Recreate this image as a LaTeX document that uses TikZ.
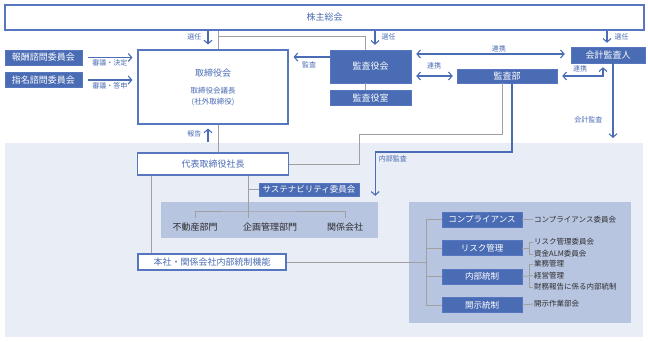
\documentclass[tikz,border=0pt]{standalone}
\usepackage{fontspec}
\setmainfont{Noto Sans CJK JP}
\usetikzlibrary{arrows.meta, positioning, calc}
\definecolor{govBlue}{HTML}{4A6CB4}
\definecolor{govBorder}{HTML}{5676BF}
\definecolor{govBack}{HTML}{E9EDF6}
\definecolor{govGroup}{HTML}{B8C5E1}
\definecolor{govGray}{HTML}{A0A0A0}
\definecolor{textDark}{HTML}{2D2D2D}

\begin{document}
\begin{tikzpicture}[x=1pt, y=-1pt,
    whitebox/.style={rectangle, draw=govBorder, line width=1.1pt, fill=white,
      text=govBlue, font=\fontsize{9}{11}\selectfont, inner sep=0pt},
    bluebox/.style={rectangle, fill=govBlue, draw=govBorder, line width=0.5pt,
      text=white, font=\fontsize{9}{11}\selectfont, inner sep=0pt},
    ctrl/.style={bluebox, minimum width=80pt, minimum height=15pt,
      font=\fontsize{8.5}{10}\selectfont},
    groupbox/.style={rectangle, fill=govGroup, inner sep=0pt},
    dept/.style={text=textDark, font=\fontsize{9}{11}\selectfont,
      inner sep=0pt, minimum height=18pt},
    item/.style={anchor=west, text=textDark, font=\fontsize{7.5}{9}\selectfont,
      inner sep=1pt},
    tag/.style={text=govBlue, font=\fontsize{7}{8}\selectfont, inner sep=1pt},
    flow/.style={draw=govBlue, line width=1.1pt,
      -{Straight Barb[length=3.5pt, width=8pt]}},
    mutual/.style={flow, {Straight Barb[length=3.5pt, width=8pt]}-{Straight Barb[length=3.5pt, width=8pt]}},
    link/.style={draw=govGray, line width=0.8pt},
    node distance=7pt
  ]
  \useasboundingbox (0,0) rectangle (648,341);
  \fill[govBack] (5,143) rectangle (643,337);

  \node[whitebox, minimum width=639pt, minimum height=25pt] (agm) at (324.5,17.5) {株主総会};
  \node[whitebox, minimum width=150pt, minimum height=74pt, align=center] (board) at (213,87)
    {取締役会\\[6pt]{\fontsize{7.5}{9}\selectfont 取締役会議長}\\{\fontsize{7.5}{9}\selectfont (社外取締役)}};
  \node[bluebox, minimum width=77pt, minimum height=15pt] (remun) at (43.5,57.5) {報酬諮問委員会};
  \node[bluebox, minimum width=77pt, minimum height=15pt, below=of remun] (nomin) {指名諮問委員会};
  \node[bluebox, minimum width=81pt, minimum height=33pt] (aud) at (370.5,66.5) {監査役会};
  \node[bluebox, minimum width=81pt, minimum height=15pt, below=of aud] (audoff) {監査役室};
  \node[bluebox, minimum width=74pt, minimum height=16pt] (extaud) at (608,55) {会計監査人};
  \node[bluebox, minimum width=100pt, minimum height=14pt] (intaud) at (507,76) {監査部};

  \node[whitebox, minimum width=151pt, minimum height=22pt] (ceo) at (213,164) {代表取締役社長};
  \node[bluebox, minimum width=100pt, minimum height=13pt, font=\fontsize{8.5}{10}\selectfont]
    (sust) at (309,189.5) {サステナビリティ委員会};
  \node[groupbox, minimum width=217pt, minimum height=36pt] (busgrp) at (269.5,220) {};
  \node[dept] (realest) at (195,227) {不動産部門};
  \node[dept] (planning) at (270,227) {企画管理部門};
  \node[dept] (affil) at (345,227) {関係会社};
  \node[whitebox, minimum width=148pt, minimum height=16pt] (icfunc) at (212,262) {本社・関係会社内部統制機能};

  \node[groupbox, minimum width=222pt, minimum height=121pt] (ctrlgrp) at (520,262.5) {};
  \node[ctrl] (compl) at (482,219.5) {コンプライアンス};
  \node[ctrl, below=13pt of compl] (risk) {リスク管理};
  \node[ctrl, below=13pt of risk] (intctrl) {内部統制};
  \node[ctrl, below=13pt of intctrl] (discl) {開示統制};
  \node[item] (complc) at (533,219.5) {コンプライアンス委員会};
  \node[item] (riskc) at (533,242) {リスク管理委員会};
  \node[item] (almc) at (533,254) {資金ALM委員会};
  \node[item] (opmgmt) at (533,264) {業務管理};
  \node[item] (mgmt) at (533,275.5) {経営管理};
  \node[item] (finrep) at (533,287) {財務報告に係る内部統制};
  \node[item] (disclc) at (533,304) {開示作業部会};

  \coordinate (deptbar) at (248,211);
  \coordinate (trunk) at (426,262);
  \coordinate (brk) at (529,0);

  \draw[flow, shorten >=5pt] ([xshift=-5pt]board.north |- agm.south)
    -- node[tag, left=5pt, pos=0.35] {選任} ([xshift=-5pt]board.north);
  \draw[link] ([xshift=5pt]board.north |- agm.south) -- ([xshift=5pt]board.north);
  \draw[link] ([xshift=5pt]board.north |- 0,36) -| ([xshift=-5.5pt]aud.north);
  \draw[link] ([xshift=-5.5pt]aud.south) -- ([xshift=-5.5pt]audoff.north);
  \draw[flow, shorten >=5pt] ([xshift=4.5pt]aud.north |- agm.south)
    -- node[tag, right=5pt, pos=0.35] {選任} ([xshift=4.5pt]aud.north);
  \draw[flow, shorten >=4pt] ([xshift=-1pt]extaud.north |- agm.south)
    -- node[tag, right=6pt, pos=0.4] {選任} ([xshift=-1pt]extaud.north);

  \draw[flow, shorten <=6pt, shorten >=5pt] (remun.east)
    -- node[tag, below=1pt] {審議・決定} (remun.east -| board.west);
  \draw[flow, shorten <=6pt, shorten >=5pt] (nomin.east)
    -- node[tag, below=1pt] {審議・答申} (nomin.east -| board.west);
  \draw[flow, shorten >=5pt] ([yshift=9.5pt]aud.west)
    -- node[tag, below=3pt] {監査} ([yshift=9.5pt]aud.west -| board.east);

  \draw[mutual, shorten <=5pt, shorten >=6pt] ([yshift=12.5pt]aud.east)
    -- node[tag, above, pos=0.55] {連携} ([yshift=12.5pt]aud.east -| extaud.west);
  \draw[mutual, shorten <=5pt, shorten >=4pt] (aud.east |- intaud.west)
    -- node[tag, above=5pt] {連携} (intaud.west);
  \draw[mutual, shorten <=5pt, shorten >=4pt] (intaud.east)
    -| node[tag, above=2pt, pos=0.25] {連携} ([xshift=-5pt]extaud.south);
  \draw[flow] ([xshift=5pt]extaud.south)
    -- node[tag, left=9pt, pos=0.76] {会計監査} ([xshift=5pt]extaud.south |- 0,138);

  \draw[flow, shorten >=6pt] ([xshift=5pt]intaud.south) |- ([xshift=-3pt]busgrp.north east |- 0,152)
    -- node[tag, pos=0.05, anchor=north west, xshift=2pt] {内部監査} ([xshift=-3pt]busgrp.north east);
  \draw[link] ([xshift=-5pt]intaud.south) |- (sust.east |- 0,134) |- (ceo.east);

  \draw[flow, shorten >=4pt] ([xshift=-5pt, yshift=10pt]ceo.north)
    -- node[tag, left=5pt] {報告} ([xshift=-5pt]board.south);
  \draw[link] ([xshift=5pt]board.south) -- ([xshift=5pt]board.south |- ceo.north);

  \draw[link] (ceo.south -| deptbar) -- (deptbar |- realest.north);
  \draw[link] (realest.north) |- (deptbar) -| (affil.north);
  \draw[link] (sust.west) -- (sust.west -| deptbar);
  \draw[link] ([xshift=-62pt]ceo.south) -- ([xshift=-62pt]ceo.south |- icfunc.north);

  \draw[link] (icfunc.east) -- (trunk);
  \draw[link] (trunk |- compl.west) -- (trunk |- discl.west);
  \foreach \b in {compl, risk, intctrl, discl}
    \draw[link] (trunk |- \b.west) -- (\b.west);
  \draw[link] (compl.east) -- (complc.west);
  \draw[link] (risk.east) -- (risk.east -| brk);
  \draw[link] (riskc.west) -| (brk |- almc.west) -- (almc.west);
  \draw[link] (intctrl.east) -- (mgmt.west);
  \draw[link] (opmgmt.west) -| (brk |- finrep.west) -- (finrep.west);
  \draw[link] (discl.east) -- (disclc.west);
\end{tikzpicture}
\end{document}
